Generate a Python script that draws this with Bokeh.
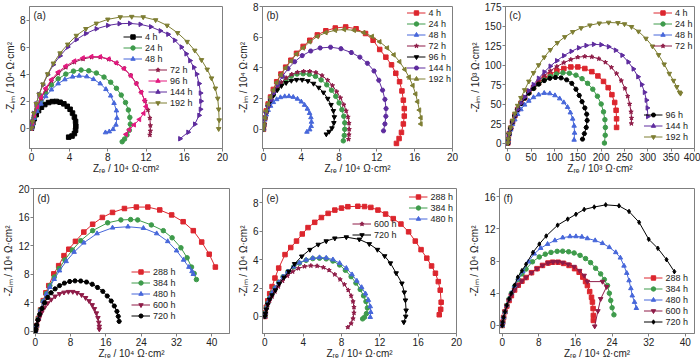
import math
from bokeh.plotting import figure
from bokeh.layouts import column, row
from bokeh.models import Legend, LegendItem, Label, FixedTicker
from bokeh.embed import file_html
from bokeh.resources import INLINE

FONT = "Liberation Sans"
RED = "#DC262E"
GREEN = "#3E9B4B"
BLUE = "#4767DA"
MAROON = "#8E1B47"
MAGENTA = "#E3197F"
PURPLE = "#5E2C9E"
OLIVE = "#7E7E33"
BLACK = "#000000"
AXIS_GRAY = "#7F7F7F"

# ---------------- panel (a) ----------------
A_LABELS = ["4 h", "24 h", "48 h", "72 h", "96 h", "144 h", "192 h"]
A_4H_X = [0.0, 0.05, 0.15, 0.3, 0.5, 0.75, 1.05, 1.4, 1.8, 2.2, 2.6, 3.0, 3.4, 3.75, 4.05, 4.3, 4.5, 4.62, 4.65, 4.62, 4.5, 4.25, 3.9]
A_4H_Y = [0.0, 0.15, 0.4, 0.7, 1.0, 1.3, 1.55, 1.75, 1.9, 1.97, 1.98, 1.92, 1.8, 1.62, 1.4, 1.12, 0.82, 0.5, 0.15, -0.15, -0.4, -0.58, -0.66]
A_24H_X = [0.0, 0.1, 0.3, 0.6, 1.0, 1.5, 2.1, 2.8, 3.6, 4.4, 5.2, 6.0, 6.8, 7.6, 8.3, 8.9, 9.4, 9.85, 10.15, 10.3, 10.35, 10.25, 10.0, 9.75, 9.5]
A_24H_Y = [0.0, 0.3, 0.8, 1.4, 2.0, 2.6, 3.2, 3.65, 4.0, 4.22, 4.3, 4.25, 4.08, 3.78, 3.4, 2.95, 2.45, 1.9, 1.35, 0.8, 0.3, -0.15, -0.5, -0.8, -1.0]
A_48H_X = [0.0, 0.1, 0.3, 0.6, 1.0, 1.5, 2.1, 2.8, 3.5, 4.3, 5.0, 5.8, 6.5, 7.2, 7.8, 8.3, 8.65, 8.9, 8.95, 8.85, 8.55, 8.15, 7.75]
A_48H_Y = [0.0, 0.3, 0.75, 1.25, 1.8, 2.35, 2.85, 3.3, 3.6, 3.8, 3.87, 3.82, 3.62, 3.3, 2.88, 2.4, 1.85, 1.3, 0.75, 0.25, -0.08, -0.25, -0.32]
A_72H_X = [0.0, 0.1, 0.3, 0.6, 1.0, 1.5, 2.1, 2.8, 3.6, 4.5, 5.4, 6.3, 7.2, 8.1, 8.9, 9.7, 10.4, 11.0, 11.5, 11.9, 12.2, 12.4, 12.45, 12.45, 12.4]
A_72H_Y = [0.0, 0.35, 0.9, 1.55, 2.2, 2.85, 3.5, 4.05, 4.5, 4.88, 5.12, 5.25, 5.25, 5.1, 4.82, 4.42, 3.9, 3.3, 2.65, 2.0, 1.35, 0.75, 0.2, -0.2, -0.5]
A_96H_X = [0.0, 0.1, 0.3, 0.6, 1.0, 1.5, 2.1, 2.8, 3.6, 4.5, 5.4, 6.3, 7.2, 8.1, 8.9, 9.7, 10.4, 11.0, 11.5, 11.85, 12.0, 11.75, 11.3, 10.75, 10.25, 9.9]
A_96H_Y = [0.0, 0.4, 0.95, 1.6, 2.3, 2.95, 3.6, 4.15, 4.6, 4.97, 5.2, 5.3, 5.28, 5.12, 4.82, 4.4, 3.88, 3.28, 2.65, 2.05, 1.6, 1.1, 0.65, 0.25, -0.1, -0.45]
A_144H_X = [0.0, 0.1, 0.25, 0.5, 0.8, 1.2, 1.7, 2.3, 3.0, 3.8, 4.7, 5.7, 6.8, 8.0, 9.2, 10.3, 11.4, 12.5, 13.5, 14.3, 15.0, 15.7, 16.2, 16.6, 17.0, 17.3, 17.55, 17.7, 17.75, 17.7, 17.55, 17.1, 16.4, 15.55]
A_144H_Y = [0.0, 0.5, 1.1, 1.8, 2.5, 3.2, 3.95, 4.7, 5.35, 6.0, 6.55, 7.0, 7.35, 7.6, 7.73, 7.75, 7.68, 7.5, 7.2, 6.95, 6.5, 6.0, 5.5, 5.0, 4.5, 4.0, 3.3, 2.6, 2.0, 1.4, 0.95, 0.3, -0.3, -0.78]
A_192H_X = [0.0, 0.1, 0.25, 0.5, 0.8, 1.2, 1.7, 2.3, 3.0, 3.8, 4.7, 5.7, 6.8, 8.0, 9.3, 10.5, 11.7, 13.0, 14.2, 15.3, 16.3, 17.1, 17.8, 18.4, 18.85, 19.25, 19.5, 19.6, 19.65, 19.6]
A_192H_Y = [0.0, 0.5, 1.1, 1.8, 2.5, 3.25, 4.0, 4.8, 5.55, 6.2, 6.85, 7.35, 7.75, 8.05, 8.22, 8.25, 8.22, 8.0, 7.6, 7.05, 6.4, 5.75, 5.05, 4.35, 3.7, 2.95, 2.2, 1.4, 0.6, -0.05]
A_XTICKS = [0, 4, 8, 12, 16, 20]
A_YTICKS = [0, 2, 4, 6, 8]

# ---------------- panel (b) ----------------
B_LABELS = ["4 h", "24 h", "48 h", "72 h", "96 h", "144 h", "192 h"]
B_4H_X = [0.0, 0.05, 0.15, 0.3, 0.5, 0.75, 1.05, 1.4, 1.85, 2.35, 2.9, 3.5, 4.2, 4.9, 5.7, 6.6, 7.6, 8.7, 9.8, 10.8, 11.6, 12.3, 12.95, 13.55, 14.0, 14.4, 14.65, 14.8, 14.9, 14.9, 14.8, 14.6, 14.35, 14.07]
B_4H_Y = [0.0, 0.3, 0.75, 1.2, 1.65, 2.1, 2.6, 3.1, 3.6, 4.05, 4.5, 4.95, 5.4, 5.8, 6.15, 6.42, 6.6, 6.67, 6.55, 6.24, 5.8, 5.2, 4.7, 4.2, 3.65, 3.1, 2.5, 1.9, 1.35, 0.86, 0.35, -0.2, -0.6, -0.92]
B_24H_X = [0.0, 0.05, 0.15, 0.3, 0.5, 0.75, 1.05, 1.45, 1.9, 2.4, 2.95, 3.55, 4.2, 4.85, 5.5, 6.1, 6.7, 7.2, 7.65, 8.0, 8.3, 8.5, 8.6, 8.6, 8.55, 8.45]
B_24H_Y = [0.0, 0.3, 0.7, 1.1, 1.5, 1.88, 2.25, 2.62, 2.95, 3.25, 3.47, 3.6, 3.62, 3.58, 3.45, 3.22, 2.9, 2.55, 2.15, 1.72, 1.28, 0.85, 0.42, 0.0, -0.4, -0.75]
B_48H_X = [0.0, 0.05, 0.15, 0.3, 0.5, 0.75, 1.05, 1.4, 1.8, 2.25, 2.7, 3.15, 3.6, 4.0, 4.35, 4.65, 4.88, 5.02, 5.08, 5.05, 4.9, 4.6]
B_48H_Y = [0.0, 0.28, 0.62, 0.95, 1.25, 1.52, 1.76, 1.95, 2.08, 2.14, 2.15, 2.1, 1.98, 1.8, 1.58, 1.33, 1.05, 0.77, 0.48, 0.2, -0.02, -0.17]
B_72H_X = [0.0, 0.05, 0.15, 0.3, 0.5, 0.75, 1.05, 1.45, 1.9, 2.4, 3.0, 3.6, 4.25, 4.9, 5.55, 6.2, 6.8, 7.3, 7.75, 8.15, 8.5, 8.75, 8.95, 9.05, 9.07, 9.05, 9.0]
B_72H_Y = [0.0, 0.3, 0.7, 1.1, 1.5, 1.9, 2.3, 2.7, 3.05, 3.35, 3.58, 3.72, 3.78, 3.78, 3.7, 3.5, 3.2, 2.85, 2.45, 2.05, 1.6, 1.2, 0.8, 0.4, 0.0, -0.35, -0.65]
B_96H_X = [0.0, 0.05, 0.15, 0.3, 0.5, 0.75, 1.05, 1.45, 1.9, 2.4, 2.95, 3.5, 4.1, 4.7, 5.3, 5.85, 6.35, 6.8, 7.15, 7.4, 7.5, 7.45, 7.25, 6.95, 6.65]
B_96H_Y = [0.0, 0.3, 0.7, 1.1, 1.5, 1.85, 2.2, 2.55, 2.83, 3.03, 3.17, 3.23, 3.23, 3.15, 2.98, 2.72, 2.4, 2.0, 1.6, 1.2, 0.8, 0.42, 0.08, -0.15, -0.32]
B_144H_X = [0.0, 0.05, 0.15, 0.3, 0.5, 0.8, 1.1, 1.5, 2.0, 2.6, 3.3, 4.1, 5.0, 6.0, 7.1, 8.2, 9.3, 10.2, 11.0, 11.7, 12.2, 12.6, 12.85, 12.97, 12.95, 12.85, 12.7]
B_144H_Y = [0.0, 0.3, 0.7, 1.1, 1.5, 1.95, 2.4, 2.9, 3.45, 3.95, 4.4, 4.8, 5.1, 5.3, 5.35, 5.25, 5.0, 4.7, 4.3, 3.8, 3.2, 2.55, 1.95, 1.35, 0.85, 0.35, -0.1]
B_192H_X = [0.0, 0.05, 0.15, 0.3, 0.5, 0.75, 1.05, 1.4, 1.85, 2.35, 2.9, 3.5, 4.2, 4.9, 5.7, 6.6, 7.6, 8.55, 9.6, 10.6, 11.5, 12.3, 13.1, 13.8, 14.4, 14.95, 15.4, 15.8, 16.1, 16.3, 16.5, 16.65, 16.65]
B_192H_Y = [0.0, 0.3, 0.75, 1.2, 1.65, 2.1, 2.55, 3.05, 3.55, 4.0, 4.45, 4.9, 5.3, 5.7, 6.05, 6.3, 6.45, 6.5, 6.45, 6.3, 6.05, 5.7, 5.3, 4.85, 4.4, 3.9, 3.4, 2.85, 2.3, 1.8, 1.25, 0.75, 0.35]
B_XTICKS = [0, 4, 8, 12, 16, 20]
B_YTICKS = [0, 2, 4, 6, 8]

# ---------------- panel (c) ----------------
C_LABELS = ["4 h", "24 h", "48 h", "72 h", "96 h", "144 h", "192 h"]
C_4H_X = [0, 1, 3, 6, 10, 15, 21, 28, 36, 45, 55, 66, 78, 91, 105, 120, 135, 150, 165, 180, 193, 205, 215, 223, 229, 232, 233, 233]
C_4H_Y = [0, 5, 12, 19, 27, 35, 43, 51, 58, 65, 71, 77, 83, 88, 92.5, 95.5, 97.5, 97.5, 95.5, 91.5, 86, 79, 71, 62, 52, 42, 31, 20]
C_24H_X = [0, 1, 3, 6, 10, 15, 21, 28, 36, 45, 55, 66, 78, 91, 104, 118, 132, 146, 159, 171, 182, 192, 200, 205, 208, 209, 208.7, 207]
C_24H_Y = [0, 5, 12, 19, 27, 35, 43, 51, 58, 64, 70, 76, 81, 85.5, 88.5, 90, 89.5, 87, 82.5, 76.5, 69, 60, 50, 40, 30, 20, 10, 0]
C_48H_X = [0, 1, 3, 6, 10, 15, 21, 28, 36, 45, 55, 66, 78, 90, 101, 111, 120, 128, 134, 139, 142, 143, 142]
C_48H_Y = [0, 5, 11, 17, 24, 30, 37, 43, 49, 54, 58.5, 62, 64, 63.5, 61, 57, 52, 46, 39, 31, 22, 13, 4]
C_72H_X = [0, 1, 3, 6, 10, 15, 21, 28, 36, 45, 55, 66, 78, 91, 105, 120, 135, 150, 165, 180, 195, 209, 222, 233, 243, 251, 257, 261, 264, 265, 264.7]
C_72H_Y = [0, 5, 12, 19, 27, 35, 43, 51, 58.5, 66, 73, 80, 86.5, 92.5, 98, 103, 107, 110, 111, 110.5, 108, 103.5, 97, 89, 80, 70, 60, 50, 40, 32, 25]
C_96H_X = [0, 1, 3, 6, 10, 15, 21, 28, 36, 45, 55, 66, 78, 90, 102, 114, 126, 137, 146, 153, 159, 165, 169, 170, 168, 164, 160]
C_96H_Y = [0, 5, 12, 19, 27, 35, 43, 50.5, 57.5, 64, 70, 75.5, 80, 83, 84, 83.5, 81, 76.5, 69, 61, 53, 45, 37, 29, 20, 12, 5]
C_144H_X = [0, 1, 3, 6, 10, 15, 21, 28, 36, 45, 55, 66, 78, 91, 105, 120, 136, 152, 168, 184, 200, 216, 231, 245, 258, 269, 279, 287, 293, 297, 299, 300]
C_144H_Y = [0, 5, 12, 19, 27, 35, 43, 51, 59, 67, 75, 83, 91, 98.5, 105.5, 112, 117.5, 122, 125, 126.5, 126, 123.5, 119, 112.5, 104, 95, 85, 75, 65, 55, 45, 34]
C_192H_X = [0, 1, 3, 6, 10, 15, 21, 28, 36, 45, 55, 66, 78, 91, 106, 122, 139, 157, 176, 196, 216, 236, 250, 265, 280, 296, 310, 323, 335, 346, 355, 362, 368, 370]
C_192H_Y = [0, 5, 12, 20, 29, 38, 48, 58, 68, 79, 90, 100, 110, 119.5, 128.5, 136, 142.5, 147.5, 151, 153.5, 154.5, 154, 152.5, 149, 143, 134, 124, 113, 101, 89, 80, 72, 65, 63.5]
C_XTICKS = [0, 50, 100, 150, 200, 250, 300, 350, 400]
C_YTICKS = [0, 25, 50, 75, 100, 125, 150, 175]

# ---------------- panel (d) ----------------
D_LABELS = ["288 h", "384 h", "480 h", "600 h", "720 h"]
D_288H_X = [0, 0.1, 0.3, 0.7, 1.2, 1.8, 2.4, 3.05, 4.2, 5.3, 6.5, 7.6, 9.1, 11.0, 13.0, 15.2, 17.5, 20.2, 22.9, 25.5, 28.2, 30.9, 33.5, 35.8, 37.7, 39.4, 40.8]
D_288H_Y = [0, 0.3, 0.8, 1.8, 3.0, 4.3, 5.4, 6.4, 8.05, 9.2, 10.6, 11.5, 12.6, 13.9, 15.0, 15.95, 16.65, 17.2, 17.4, 17.4, 17.0, 16.3, 15.35, 14.1, 12.5, 10.8, 9.0]
D_384H_X = [0, 0.1, 0.3, 0.7, 1.2, 1.8, 2.5, 3.3, 4.3, 5.4, 6.7, 8.4, 10.3, 13.0, 16.4, 19.4, 21.6, 23.2, 26.3, 29.0, 31.0, 33.0, 34.4, 35.4, 36.0, 36.5]
D_384H_Y = [0, 0.3, 0.8, 1.8, 3.0, 4.2, 5.3, 6.4, 7.6, 8.8, 10.0, 11.4, 12.7, 14.1, 15.2, 15.6, 15.65, 15.6, 14.9, 14.1, 13.1, 11.7, 10.3, 9.0, 8.1, 7.25]
D_480H_X = [0, 0.1, 0.3, 0.7, 1.2, 1.8, 2.5, 3.3, 4.3, 5.5, 7.0, 8.8, 11.0, 14.0, 17.5, 21.0, 24.5, 27.5, 30.0, 32.0, 33.6, 34.8, 35.5, 35.8]
D_480H_Y = [0, 0.3, 0.8, 1.8, 3.0, 4.2, 5.2, 6.2, 7.3, 8.5, 9.8, 11.1, 12.4, 13.7, 14.5, 14.65, 14.45, 13.7, 12.6, 11.3, 10.0, 9.0, 8.4, 8.0]
D_600H_X = [0, 0.1, 0.3, 0.6, 1.0, 1.5, 2.1, 2.8, 3.6, 4.5, 5.5, 6.5, 7.5, 8.5, 9.5, 10.5, 11.4, 12.2, 12.9, 13.4, 13.85, 14.2, 14.4, 14.5, 14.5]
D_600H_Y = [0, 0.3, 0.8, 1.4, 2.0, 2.7, 3.35, 3.95, 4.45, 4.9, 5.25, 5.45, 5.55, 5.55, 5.4, 5.1, 4.7, 4.25, 3.7, 3.15, 2.55, 1.9, 1.25, 0.7, 0.3]
D_720H_X = [0, 0.1, 0.3, 0.6, 1.0, 1.5, 2.1, 2.8, 3.6, 4.5, 5.5, 6.6, 7.8, 9.0, 10.3, 11.6, 12.9, 14.1, 15.3, 16.3, 17.2, 17.9, 18.5, 18.8, 19.0]
D_720H_Y = [0, 0.3, 0.9, 1.6, 2.4, 3.2, 4.0, 4.75, 5.4, 5.95, 6.4, 6.75, 6.98, 7.07, 7.05, 6.9, 6.6, 6.15, 5.6, 4.95, 4.25, 3.55, 2.8, 2.1, 1.4]
D_XTICKS = [0, 8, 16, 24, 32, 40]
D_YTICKS = [0, 4, 8, 12, 16, 20]

# ---------------- panel (e) ----------------
E_LABELS = ["288 h", "384 h", "480 h", "600 h", "720 h"]
E_288H_X = [0, 0.05, 0.15, 0.3, 0.5, 0.75, 1.05, 1.44, 2.1, 2.7, 3.3, 3.9, 4.5, 5.2, 5.9, 6.6, 7.3, 8.0, 8.66, 9.7, 10.4, 11.06, 11.8, 12.6, 13.4, 14.2, 15.0, 15.7, 16.3, 16.9, 17.4, 17.8, 18.1, 18.3, 18.4, 18.35, 18.2]
E_288H_Y = [0, 0.25, 0.65, 1.1, 1.6, 2.1, 2.7, 3.4, 4.35, 4.85, 5.3, 5.8, 6.25, 6.62, 6.96, 7.25, 7.48, 7.62, 7.72, 7.75, 7.73, 7.67, 7.48, 7.2, 6.88, 6.5, 5.95, 5.3, 4.7, 4.1, 3.55, 3.04, 2.45, 1.85, 1.0, 0.5, 0.12]
E_384H_X = [0, 0.05, 0.15, 0.3, 0.5, 0.75, 1.05, 1.45, 1.9, 2.4, 3.0, 3.6, 4.3, 5.0, 5.7, 6.4, 7.1, 7.8, 8.4, 9.0, 9.5, 9.95, 10.3, 10.55, 10.7, 10.6, 10.4, 10.2]
E_384H_Y = [0, 0.25, 0.6, 0.95, 1.3, 1.65, 2.0, 2.4, 2.8, 3.15, 3.48, 3.75, 3.95, 4.07, 4.1, 4.05, 3.9, 3.62, 3.25, 2.8, 2.35, 1.9, 1.45, 1.05, 0.6, 0.2, -0.05, -0.17]
E_480H_X = [0, 0.05, 0.15, 0.3, 0.5, 0.75, 1.05, 1.45, 1.9, 2.4, 3.0, 3.6, 4.3, 5.0, 5.7, 6.4, 7.1, 7.8, 8.5, 9.1, 9.6, 10.1, 10.5, 10.8, 11.0, 11.05, 11.0]
E_480H_Y = [0, 0.25, 0.6, 0.95, 1.3, 1.65, 2.0, 2.4, 2.8, 3.15, 3.5, 3.78, 3.98, 4.1, 4.15, 4.12, 4.0, 3.75, 3.4, 2.95, 2.5, 2.05, 1.6, 1.15, 0.7, 0.3, -0.05]
E_600H_X = [0, 0.05, 0.15, 0.3, 0.5, 0.75, 1.05, 1.4, 1.85, 2.35, 2.9, 3.5, 4.15, 4.8, 5.45, 6.1, 6.7, 7.3, 7.85, 8.3, 8.7, 9.0, 9.2, 9.3, 9.3, 9.2, 9.0, 8.66]
E_600H_Y = [0, 0.2, 0.5, 0.8, 1.1, 1.4, 1.75, 2.1, 2.5, 2.85, 3.15, 3.38, 3.52, 3.57, 3.55, 3.45, 3.25, 2.95, 2.6, 2.25, 1.85, 1.45, 1.05, 0.65, 0.25, -0.15, -0.5, -0.76]
E_720H_X = [0, 0.05, 0.15, 0.3, 0.5, 0.75, 1.1, 1.5, 2.0, 2.5, 3.1, 3.85, 4.7, 5.57, 6.4, 7.3, 8.5, 9.86, 10.9, 11.75, 12.5, 13.1, 13.7, 14.3, 14.55, 14.67, 14.74, 14.7, 14.5]
E_720H_Y = [0, 0.2, 0.5, 0.85, 1.2, 1.5, 1.85, 2.3, 2.75, 3.16, 3.7, 4.23, 4.7, 5.06, 5.3, 5.5, 5.58, 5.42, 5.1, 4.7, 4.25, 3.75, 3.05, 2.33, 1.7, 1.14, 0.43, 0.0, -0.4]
E_XTICKS = [0, 4, 8, 12, 16, 20]
E_YTICKS = [0, 2, 4, 6, 8]

# ---------------- panel (f) ----------------
F_LABELS = ["288 h", "384 h", "480 h", "600 h", "720 h"]
F_288H_X = [0, 0.1, 0.3, 0.6, 1.0, 1.5, 2.0, 2.7, 3.5, 4.3, 5.2, 6.4, 7.6, 8.8, 10.0, 11.0, 12.2, 13.4, 14.6, 15.8, 16.8, 17.6, 18.2, 18.6, 19.1, 19.5, 19.7, 19.85, 19.9, 19.9]
F_288H_Y = [0, 0.4, 1.0, 1.7, 2.4, 3.1, 3.7, 4.4, 5.0, 5.5, 5.95, 6.55, 7.05, 7.45, 7.75, 7.85, 7.85, 7.7, 7.45, 7.05, 6.6, 6.0, 5.45, 4.95, 4.2, 3.5, 2.9, 2.1, 1.24, 0.62]
F_384H_X = [0, 0.1, 0.3, 0.6, 1.0, 1.5, 2.0, 2.7, 3.5, 4.3, 5.2, 6.6, 8.1, 9.4, 10.65, 12.0, 13.2, 14.5, 15.7, 17.0, 18.2, 19.3, 20.4, 21.5, 22.3, 23.0, 23.4, 23.7, 24.0, 24.4]
F_384H_Y = [0, 0.4, 1.0, 1.7, 2.5, 3.3, 4.0, 4.85, 5.7, 6.4, 7.0, 7.9, 8.5, 8.85, 9.07, 9.2, 9.22, 9.15, 9.0, 8.7, 8.3, 7.8, 7.1, 6.4, 5.7, 4.95, 4.0, 3.1, 2.2, 1.32]
F_480H_X = [0, 0.1, 0.3, 0.6, 1.0, 1.5, 2.0, 2.7, 3.5, 4.5, 5.7, 7.0, 8.4, 9.9, 11.5, 13.2, 14.8, 16.1, 17.4, 18.6, 20.3, 21.9, 23.4, 24.8, 25.8, 26.6, 27.2, 27.7, 28.1, 28.4, 28.9, 29.3]
F_480H_Y = [0, 0.4, 1.0, 1.7, 2.5, 3.3, 4.0, 4.9, 5.8, 6.7, 7.9, 8.9, 9.6, 10.1, 10.55, 10.9, 11.05, 11.05, 11.0, 10.8, 10.55, 10.2, 9.7, 9.07, 8.4, 7.4, 6.5, 5.57, 4.6, 3.7, 2.9, 2.14]
F_600H_X = [0, 0.1, 0.3, 0.6, 1.0, 1.5, 2.0, 2.7, 3.5, 4.3, 5.2, 6.4, 7.6, 8.8, 10.0, 11.1, 12.1, 13.2, 14.4, 15.7, 16.9, 17.9, 18.6, 21.9, 22.8, 21.5, 20.9, 20.2]
F_600H_Y = [0, 0.4, 1.0, 1.7, 2.4, 3.1, 3.7, 4.4, 5.0, 5.5, 5.95, 6.55, 7.05, 7.45, 7.75, 7.88, 7.9, 7.8, 7.6, 7.3, 6.8, 6.2, 5.44, 5.44, 4.8, 3.3, 1.8, -0.1]
F_720H_X = [0, 0.1, 0.3, 0.6, 1.0, 1.5, 2.0, 2.7, 3.4, 4.3, 5.2, 6.7, 8.1, 9.6, 12.1, 14.3, 16.1, 17.9, 20.1, 22.6, 25.5, 27.7, 29.9, 32.0, 34.0, 35.9, 37.6]
F_720H_Y = [0, 0.4, 1.0, 1.7, 2.5, 3.3, 4.0, 5.0, 6.0, 6.8, 7.6, 9.07, 10.1, 11.1, 12.45, 13.2, 13.8, 14.4, 14.7, 14.97, 14.85, 14.15, 12.8, 10.7, 9.57, 8.16, 6.68]
F_XTICKS = [0, 8, 16, 24, 32, 40]
F_YTICKS = [0, 4, 8, 12, 16]

YLAB4 = "-Z\u1d62\u2098 / 10\u2074 \u03a9\u00b7cm\u00b2"
XLAB4 = "Z\u1d63\u2091 / 10\u2074 \u03a9\u00b7cm\u00b2"
YLAB3 = "-Z\u1d62\u2098 / 10\u00b3 \u03a9\u00b7cm\u00b2"
XLAB3 = "Z\u1d63\u2091 / 10\u00b3 \u03a9\u00b7cm\u00b2"

# marker style: (marker, angle)
SQ = ("square", 0.0)
CI = ("circle", 0.0)
TU = ("triangle", 0.0)
TD = ("inverted_triangle", 0.0)
TL = ("triangle", math.pi / 2)
TR = ("triangle", -math.pi / 2)
ST = ("star", 0.0)
HX = ("hex", 0.0)
DI = ("diamond", 0.0)

ITEM_H = 11

# legends: (series indices, location, margin)
#   location is either an anchor name or (x offset from frame left, legend bottom above frame bottom) in px
PANELS = [
    dict(tag="(a)", w=234, h=176, bl=29, br=12, bt=6, bb=27, xr=(-0.2, 20), yr=(-1.5, 9),
         xt=A_XTICKS, yt=A_YTICKS, xl=XLAB4, yl=YLAB4, labels=A_LABELS,
         series=[(A_4H_X, A_4H_Y, BLACK, SQ), (A_24H_X, A_24H_Y, GREEN, CI), (A_48H_X, A_48H_Y, BLUE, TU),
                 (A_72H_X, A_72H_Y, MAROON, ST), (A_96H_X, A_96H_Y, MAGENTA, TL),
                 (A_144H_X, A_144H_Y, PURPLE, TR), (A_192H_X, A_192H_Y, OLIVE, TD)],
         legends=[([0, 1, 2], (94, 84), 0), ([3, 4, 5, 6], (119, 40), 0)]),
    dict(tag="(b)", w=232, h=176, bl=26, br=14, bt=6, bb=27, xr=(-0.1, 20), yr=(-1.25, 8),
         xt=B_XTICKS, yt=B_YTICKS, xl=XLAB4, yl=YLAB4, labels=B_LABELS,
         series=[(B_4H_X, B_4H_Y, RED, SQ), (B_24H_X, B_24H_Y, GREEN, CI), (B_48H_X, B_48H_Y, BLUE, TU),
                 (B_72H_X, B_72H_Y, MAROON, ST), (B_96H_X, B_96H_Y, BLACK, TD),
                 (B_144H_X, B_144H_Y, PURPLE, HX), (B_192H_X, B_192H_Y, OLIVE, TL)],
         legends=[([0, 1, 2, 3, 4, 5, 6], "top_right", 1)]),
    dict(tag="(c)", w=234, h=176, bl=32, br=6, bt=6, bb=27, xr=(-5, 400), yr=(-7, 175),
         xt=C_XTICKS, yt=C_YTICKS, xl=XLAB3, yl=YLAB3, labels=C_LABELS,
         series=[(C_4H_X, C_4H_Y, RED, SQ), (C_24H_X, C_24H_Y, GREEN, CI), (C_48H_X, C_48H_Y, BLUE, TU),
                 (C_72H_X, C_72H_Y, MAROON, ST), (C_96H_X, C_96H_Y, BLACK, HX),
                 (C_144H_X, C_144H_Y, PURPLE, TR), (C_192H_X, C_192H_Y, OLIVE, TD)],
         legends=[([0, 1, 2, 3], "top_right", 1), ([4, 5, 6], "bottom_right", 6)]),
    dict(tag="(d)", w=234, h=186, bl=33, br=5, bt=12, bb=29, xr=(-0.4, 44), yr=(-0.3, 20),
         xt=D_XTICKS, yt=D_YTICKS, xl=XLAB4, yl=YLAB4, labels=D_LABELS,
         series=[(D_288H_X, D_288H_Y, RED, SQ), (D_384H_X, D_384H_Y, GREEN, CI), (D_480H_X, D_480H_Y, BLUE, TU),
                 (D_600H_X, D_600H_Y, MAROON, TD), (D_720H_X, D_720H_Y, BLACK, HX)],
         legends=[([0, 1, 2, 3, 4], (98, 12), 0)]),
    dict(tag="(e)", w=232, h=186, bl=26, br=10, bt=12, bb=29, xr=(-0.25, 20), yr=(-1.2, 9),
         xt=E_XTICKS, yt=E_YTICKS, xl=XLAB4, yl=YLAB4, labels=E_LABELS,
         series=[(E_288H_X, E_288H_Y, RED, SQ), (E_384H_X, E_384H_Y, GREEN, CI), (E_480H_X, E_480H_Y, BLUE, TU),
                 (E_600H_X, E_600H_Y, MAROON, ST), (E_720H_X, E_720H_Y, BLACK, TD)],
         legends=[([0, 1, 2], "top_right", 3), ([3, 4], (90, 93), 0)]),
    dict(tag="(f)", w=234, h=186, bl=31, br=6, bt=12, bb=29, xr=(-0.6, 42), yr=(-1, 17),
         xt=F_XTICKS, yt=F_YTICKS, xl=XLAB4, yl=YLAB4, labels=F_LABELS,
         series=[(F_288H_X, F_288H_Y, RED, SQ), (F_384H_X, F_384H_Y, GREEN, CI), (F_480H_X, F_480H_Y, BLUE, TU),
                 (F_600H_X, F_600H_Y, MAROON, TD), (F_720H_X, F_720H_Y, BLACK, DI)],
         legends=[([0, 1, 2, 3, 4], "bottom_right", 6)]),
]


def style_axis(ax, ticks, is_x):
    ax.ticker = FixedTicker(ticks=ticks)
    ax.axis_line_color = AXIS_GRAY
    ax.major_tick_line_color = AXIS_GRAY
    ax.minor_tick_line_color = None
    ax.major_tick_out = 3
    ax.major_tick_in = 0
    ax.major_label_standoff = 1
    ax.axis_label_standoff = -1 if is_x else 1
    ax.major_label_text_font = FONT
    ax.major_label_text_font_size = "10px"
    ax.major_label_text_color = "#222222"
    ax.major_label_text_line_height = 1.0
    ax.axis_label_text_font = FONT
    ax.axis_label_text_font_size = "10px"
    ax.axis_label_text_font_style = "normal"
    ax.axis_label_text_color = "#222222"
    ax.axis_label_text_line_height = 1.0


def make_panel(cfg):
    p = figure(width=cfg["w"], height=cfg["h"], x_range=cfg["xr"], y_range=cfg["yr"],
               output_backend="svg", toolbar_location=None, title=None,
               min_border_left=cfg["bl"], min_border_right=cfg["br"],
               min_border_top=cfg["bt"], min_border_bottom=cfg["bb"])
    p.xgrid.visible = False
    p.ygrid.visible = False
    p.outline_line_color = AXIS_GRAY
    p.outline_line_width = 1
    p.background_fill_color = "white"
    p.border_fill_color = "white"
    style_axis(p.xaxis[0], cfg["xt"], True)
    style_axis(p.yaxis[0], cfg["yt"], False)
    p.xaxis[0].axis_label = cfg["xl"]
    p.yaxis[0].axis_label = cfg["yl"]

    rends = []
    for (xs, ys, col, (mk, ang)) in cfg["series"]:
        ln = p.line(xs, ys, line_color=col, line_width=1)
        sc = p.scatter(xs, ys, marker=mk, angle=ang, size=4.5, fill_color=col, line_color=col)
        rends.append((ln, sc))

    fw = cfg["w"] - cfg["bl"] - cfg["br"]
    fh = cfg["h"] - cfg["bt"] - cfg["bb"]
    for idxs, loc, mg in cfg["legends"]:
        items = [LegendItem(label=cfg["labels"][i], renderers=list(rends[i])) for i in idxs]
        leg = Legend(items=items, location=loc, orientation="vertical",
                     background_fill_alpha=0, border_line_alpha=0, padding=0, margin=mg,
                     spacing=0, glyph_width=19, glyph_height=ITEM_H, label_height=ITEM_H,
                     label_width=18, label_standoff=3, label_text_font=FONT,
                     label_text_font_size="9px", label_text_line_height=1.0,
                     label_text_color="#222222")
        p.add_layout(leg)

    x0, x1 = cfg["xr"]
    y0, y1 = cfg["yr"]
    p.add_layout(Label(x=x0 + 4.0 / fw * (x1 - x0), y=y1 - 4.0 / fh * (y1 - y0), text=cfg["tag"],
                       text_baseline="top", text_align="left", text_font=FONT,
                       text_font_size="10px", text_color="#222222"))
    return p


figs = [make_panel(c) for c in PANELS]
layout = column(row(figs[0], figs[1], figs[2]), row(figs[3], figs[4], figs[5]))

open("out.html", "w").write(file_html(layout, INLINE))
